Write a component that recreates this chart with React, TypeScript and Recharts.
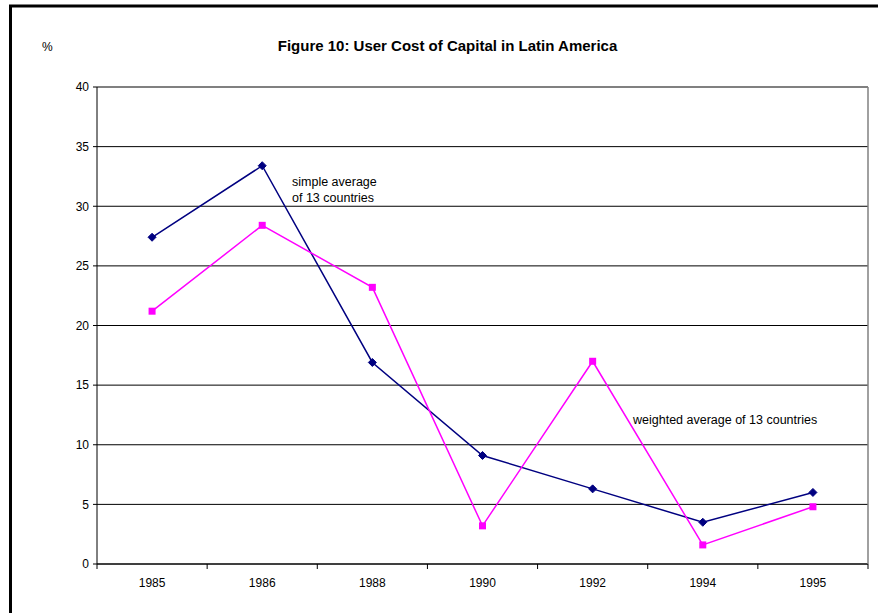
import React from 'react';
import { LineChart, Line, XAxis, YAxis, CartesianGrid, ReferenceLine } from 'recharts';

const years = ['1985', '1986', '1988', '1990', '1992', '1994', '1995'];
const simpleAverage = [27.4, 33.4, 16.9, 9.1, 6.3, 3.5, 6.0];
const weightedAverage = [21.2, 28.4, 23.2, 3.2, 17.0, 1.6, 4.8];
const yTicks = [0, 5, 10, 15, 20, 25, 30, 35, 40];

const titleText = 'Figure 10: User Cost of Capital in Latin America';
const unitText = '%';
const simpleNoteLines = ['simple average', 'of 13 countries'];
const weightedNote = 'weighted average of 13 countries';

const data = years.map((year, i) => ({
  year,
  simple: simpleAverage[i],
  weighted: weightedAverage[i],
}));

const FONT = '"Liberation Sans", Arial, sans-serif';
const NAVY = '#000080';
const MAGENTA = '#FF00FF';
const FRAME_GRAY = '#808080';

const Diamond = (props: any) => {
  const { cx, cy, index } = props;
  if (cx == null || cy == null) return <g key={`d-${index}`} />;
  const r = 4;
  return (
    <polygon
      key={`d-${index}`}
      points={`${cx},${cy - r} ${cx + r},${cy} ${cx},${cy + r} ${cx - r},${cy}`}
      fill={NAVY}
      stroke={NAVY}
    />
  );
};

const Square = (props: any) => {
  const { cx, cy, index } = props;
  if (cx == null || cy == null) return <g key={`s-${index}`} />;
  const h = 3.5;
  return <rect key={`s-${index}`} x={cx - h} y={cy - h} width={2 * h} height={2 * h} fill={MAGENTA} />;
};

const XTick = (props: any) => {
  const { x, y, payload, index, visibleTicksCount } = props;
  const off = payload && payload.offset ? payload.offset : 0;
  const axisY = y - 5;
  return (
    <g>
      <line x1={x - off} x2={x - off} y1={axisY} y2={axisY + 5} stroke="#000" />
      {index === visibleTicksCount - 1 && (
        <line x1={x + off} x2={x + off} y1={axisY} y2={axisY + 5} stroke="#000" />
      )}
      <text x={x} y={axisY + 23} textAnchor="middle" fontSize={12} fontFamily={FONT} fill="#000">
        {payload.value}
      </text>
    </g>
  );
};

export default function App() {
  return (
    <div style={{ position: 'absolute', left: 0, top: 0, width: 878, height: 613, background: '#fff' }}>
      <LineChart
        width={878}
        height={613}
        data={data}
        margin={{ top: 87, right: 9, bottom: 19, left: 0 }}
      >
        <CartesianGrid vertical={false} stroke="#000" strokeWidth={1} />
        <XAxis
          dataKey="year"
          scale="band"
          height={30}
          stroke="#000"
          tickLine={false}
          tickSize={5}
          tickMargin={0}
          interval={0}
          tick={<XTick />}
        />
        <XAxis
          xAxisId="top"
          dataKey="year"
          orientation="top"
          scale="band"
          height={0}
          tick={false}
          tickLine={false}
          stroke={FRAME_GRAY}
        />
        <YAxis
          domain={[0, 40]}
          ticks={yTicks}
          interval={0}
          width={97}
          stroke="#000"
          tickSize={4}
          tickMargin={4}
          tick={{ fontSize: 12, fontFamily: FONT, fill: '#000' }}
        />
        <YAxis
          yAxisId="right"
          orientation="right"
          domain={[0, 40]}
          ticks={yTicks}
          width={1}
          tick={false}
          tickLine={false}
          axisLine={{ stroke: FRAME_GRAY, strokeWidth: 1.5 }}
        />
        <ReferenceLine y={40} stroke={FRAME_GRAY} strokeWidth={1.5} />
        <Line
          dataKey="simple"
          stroke={NAVY}
          strokeWidth={1.5}
          dot={Diamond}
          activeDot={false}
          isAnimationActive={false}
        />
        <Line
          dataKey="weighted"
          stroke={MAGENTA}
          strokeWidth={1.5}
          dot={Square}
          activeDot={false}
          isAnimationActive={false}
        />
      </LineChart>
      <svg
        width={878}
        height={613}
        style={{ position: 'absolute', left: 0, top: 0, pointerEvents: 'none' }}
      >
        <line x1={9} y1={6} x2={878} y2={6} stroke="#000" strokeWidth={3} />
        <line x1={10.5} y1={5} x2={10.5} y2={613} stroke="#000" strokeWidth={3} />
        <text x={447.5} y={50.5} textAnchor="middle" fontSize={15} fontWeight="bold" fontFamily={FONT} fill="#000">
          {titleText}
        </text>
        <text x={42} y={51} fontSize={12} fontFamily={FONT} fill="#000">
          {unitText}
        </text>
        <text fontSize={12.5} fontFamily={FONT} fill="#000">
          <tspan x={292} y={186}>{simpleNoteLines[0]}</tspan>
          <tspan x={292} y={202}>{simpleNoteLines[1]}</tspan>
        </text>
        <text x={633} y={424} fontSize={12.5} fontFamily={FONT} fill="#000">
          {weightedNote}
        </text>
      </svg>
    </div>
  );
}
